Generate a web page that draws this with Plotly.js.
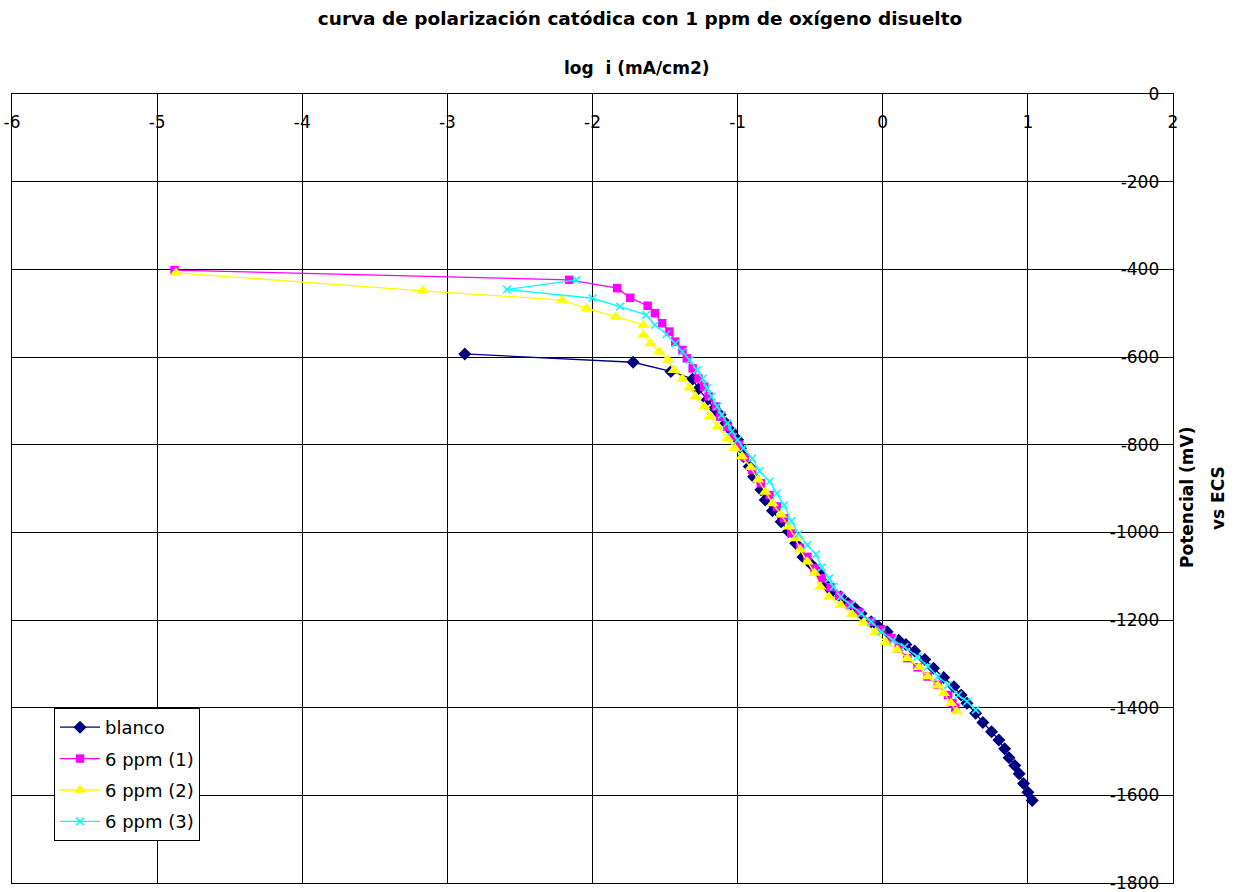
<!DOCTYPE html>
<html><head><meta charset="utf-8">
<script src="https://cdn.plot.ly/plotly-3.0.1.min.js"></script>
<style>html,body{margin:0;padding:0;background:#fff}</style>
</head><body><div id="chart" style="width:1238px;height:892px"></div>
<script>
// log i (mA/cm2) and potential (mV vs ECS)
const blancoX = [-2.88, -1.72, -1.46, -1.31, -1.27, -1.21, -1.16, -1.12, -1.08, -1.04, -1.00, -0.98, -0.96, -0.92, -0.89, -0.84, -0.81, -0.76, -0.70, -0.65, -0.60, -0.55, -0.49, -0.44, -0.39, -0.35, -0.29, -0.24, -0.19, -0.15, -0.08, -0.03, 0.03, 0.11, 0.16, 0.22, 0.29, 0.35, 0.42, 0.49, 0.54, 0.58, 0.64, 0.69, 0.75, 0.80, 0.84, 0.87, 0.91, 0.94, 0.97, 1.00, 1.03];
const blancoY = [-593, -612, -633, -650, -673, -698, -717, -732, -751, -770, -789, -808, -827, -850, -873, -903, -926, -951, -976, -998, -1025, -1056, -1074, -1093, -1120, -1135, -1147, -1162, -1174, -1185, -1204, -1215, -1227, -1246, -1256, -1271, -1290, -1310, -1331, -1352, -1371, -1390, -1413, -1434, -1455, -1474, -1494, -1514, -1532, -1551, -1573, -1593, -1612];

const ppm1X = [-4.88, -2.16, -1.83, -1.74, -1.62, -1.57, -1.52, -1.47, -1.43, -1.38, -1.35, -1.31, -1.27, -1.23, -1.20, -1.15, -1.12, -1.07, -1.04, -0.99, -0.95, -0.90, -0.84, -0.78, -0.73, -0.68, -0.63, -0.57, -0.52, -0.47, -0.42, -0.36, -0.30, -0.23, -0.16, -0.08, -0.01, 0.06, 0.11, 0.17, 0.24, 0.31, 0.38, 0.45, 0.48, 0.50];
const ppm1Y = [-402, -424, -443, -465, -483, -500, -523, -542, -565, -584, -603, -626, -649, -668, -690, -713, -736, -759, -782, -800, -829, -858, -888, -915, -941, -968, -1002, -1035, -1056, -1082, -1105, -1125, -1145, -1165, -1183, -1204, -1222, -1241, -1265, -1287, -1308, -1329, -1348, -1371, -1390, -1400];

const ppm2X = [-4.87, -3.17, -2.21, -2.04, -1.84, -1.65, -1.65, -1.60, -1.54, -1.48, -1.44, -1.38, -1.33, -1.29, -1.23, -1.19, -1.14, -1.07, -1.02, -0.97, -0.91, -0.86, -0.81, -0.76, -0.70, -0.65, -0.60, -0.57, -0.52, -0.47, -0.43, -0.37, -0.29, -0.21, -0.13, -0.05, 0.02, 0.10, 0.17, 0.25, 0.31, 0.38, 0.42, 0.47, 0.51];
const ppm2Y = [-408, -449, -470, -489, -508, -527, -550, -569, -588, -607, -630, -650, -670, -690, -713, -736, -759, -786, -808, -827, -852, -880, -908, -934, -960, -987, -1014, -1040, -1067, -1093, -1124, -1147, -1166, -1187, -1207, -1228, -1251, -1268, -1287, -1308, -1329, -1350, -1367, -1390, -1409];

const ppm3X = [-2.11, -2.59, -2.00, -1.81, -1.63, -1.57, -1.49, -1.43, -1.38, -1.33, -1.28, -1.24, -1.21, -1.18, -1.14, -1.11, -1.07, -1.04, -1.00, -0.96, -0.90, -0.85, -0.78, -0.73, -0.68, -0.63, -0.58, -0.52, -0.46, -0.42, -0.37, -0.34, -0.29, -0.22, -0.15, -0.08, -0.01, 0.07, 0.15, 0.24, 0.31, 0.38, 0.45, 0.52, 0.58, 0.64];
const ppm3Y = [-424, -446, -466, -485, -504, -527, -548, -569, -588, -607, -630, -649, -671, -690, -713, -732, -751, -770, -789, -808, -831, -860, -884, -911, -938, -974, -1004, -1029, -1050, -1080, -1105, -1124, -1147, -1166, -1185, -1204, -1227, -1246, -1261, -1284, -1306, -1329, -1348, -1371, -1386, -1405];

const seriesNames = ['blanco', '6 ppm (1)', '6 ppm (2)', '6 ppm (3)'];
const xTickVals = [-6, -5, -4, -3, -2, -1, 0, 1, 2];
const xTickText = ['-6', '-5', '-4', '-3', '-2', '-1', '0', '1', '2'];
const yTickVals = [0, -200, -400, -600, -800, -1000, -1200, -1400, -1600, -1800];
const yTickText = ['0', '-200', '-400', '-600', '-800', '-1000', '-1200', '-1400', '-1600', '-1800'];

const FONT = 'DejaVu Sans, Arial, sans-serif';

const traces = [
  {x: blancoX, y: blancoY, name: seriesNames[0], legendgroup: 'a', mode: 'lines+markers',
   line: {color: '#000080', width: 1.3}, marker: {symbol: 'diamond', size: 10, color: '#000080'}},
  {x: ppm1X, y: ppm1Y, name: seriesNames[1], legendgroup: 'b', mode: 'lines+markers',
   line: {color: '#FF00FF', width: 1.3}, marker: {symbol: 'square', size: 8.5, color: '#FF00FF'}},
  {x: ppm2X, y: ppm2Y, name: seriesNames[2], legendgroup: 'c', mode: 'lines+markers',
   line: {color: '#FFFF00', width: 1.3}, marker: {symbol: 'triangle-up', size: 11, color: '#FFFF00'}},
  {x: ppm3X, y: ppm3Y, name: seriesNames[3], legendgroup: 'd', mode: 'lines+markers',
   line: {color: '#00FFFF', width: 1.3}, marker: {symbol: 'x-thin', size: 7.5, color: '#00FFFF', line: {color: '#00FFFF', width: 1.5}}}
];

const layout = {
  width: 1238, height: 892,
  margin: {l: 12, r: 65, t: 94, b: 9},
  paper_bgcolor: '#fff', plot_bgcolor: '#fff',
  font: {family: FONT, color: '#000'},
  title: {text: 'curva de polarización catódica con 1 ppm de oxígeno disuelto',
          font: {family: FONT, size: 18.5, weight: 'bold', color: '#000'},
          x: 640/1238, xanchor: 'center', y: 1 - 19/892, yanchor: 'middle'},
  xaxis: {range: [-6, 2], side: 'top', tickvals: xTickVals, ticktext: xTickText,
          ticklabelposition: 'inside', ticklabelstandoff: 22, ticklabeloverflow: 'allow', ticks: '',
          showgrid: true, gridcolor: '#000', gridwidth: 1.3,
          showline: true, linecolor: '#000', linewidth: 1.3, mirror: true,
          zeroline: false, tickfont: {family: FONT, size: 17, color: '#000'}},
  yaxis: {range: [-1800, 0], side: 'right', tickvals: yTickVals, ticktext: yTickText,
          ticklabelposition: 'inside', ticklabelstandoff: 14, ticklabeloverflow: 'allow', ticks: '',
          showgrid: true, gridcolor: '#000', gridwidth: 1.3,
          showline: true, linecolor: '#000', linewidth: 1.3, mirror: true,
          zeroline: false, tickfont: {family: FONT, size: 17, color: '#000'}},
  showlegend: true,
  legend: {x: (54-12)/1161, xanchor: 'left', y: (883-708)/789, yanchor: 'top',
           bgcolor: '#fff', bordercolor: '#000', borderwidth: 1, itemwidth: 40,
           font: {family: FONT, size: 18, color: '#000'}, tracegroupgap: 5},
  annotations: [
    {text: 'log\u00a0 i (mA/cm2)', xref: 'paper', yref: 'paper', x: (637-12)/1161, y: (883-68)/789,
     xanchor: 'center', yanchor: 'middle', showarrow: false,
     font: {family: FONT, size: 17, weight: 'bold', color: '#000'}},
    {text: 'Potencial (mV)', xref: 'paper', yref: 'paper', x: (1187-12)/1161, y: (883-498)/789,
     xanchor: 'center', yanchor: 'middle', showarrow: false, textangle: -90,
     font: {family: FONT, size: 17, weight: 'bold', color: '#000'}},
    {text: 'vs ECS', xref: 'paper', yref: 'paper', x: (1218-12)/1161, y: (883-498)/789,
     xanchor: 'center', yanchor: 'middle', showarrow: false, textangle: -90,
     font: {family: FONT, size: 17, weight: 'bold', color: '#000'}}
  ]
};

Plotly.newPlot('chart', traces, layout, {displayModeBar: false, responsive: false});
</script>
</body></html>
